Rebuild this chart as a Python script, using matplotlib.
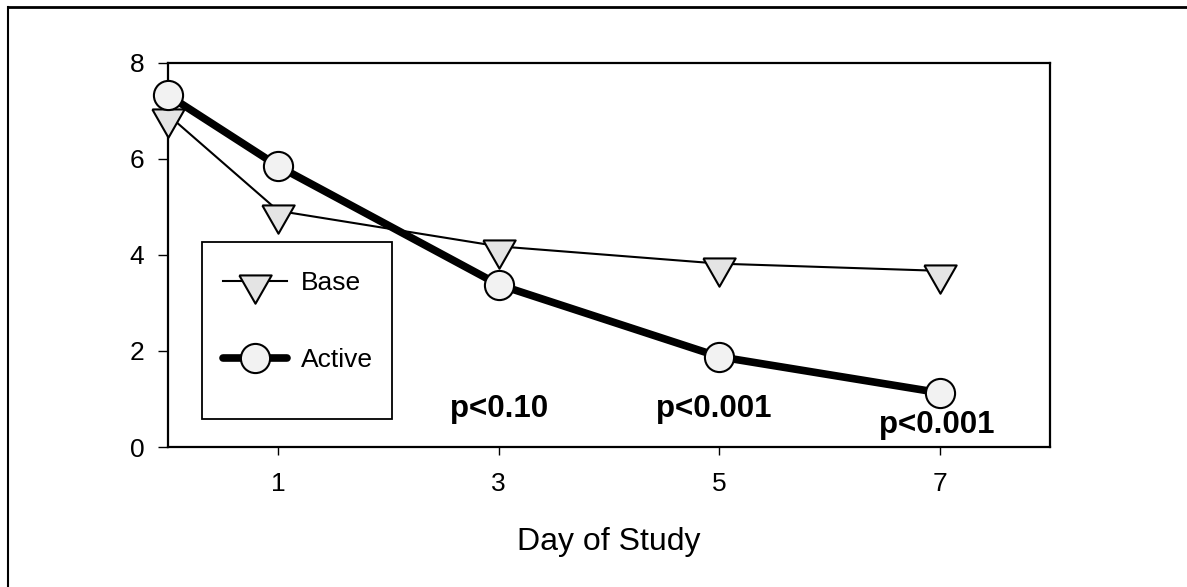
import matplotlib
matplotlib.use("Agg")
import matplotlib.pyplot as plt
from matplotlib.lines import Line2D
from matplotlib.patches import Rectangle

plt.rcParams['font.family'] = ['Liberation Sans', 'DejaVu Sans']

# values
days = [0, 1, 3, 5, 7]
base = [6.92, 4.92, 4.18, 3.82, 3.67]
active = [7.33, 5.85, 3.38, 1.88, 1.13]

p_labels = ["p<0.10", "p<0.001", "p<0.001"]
p_x = [3.0, 4.95, 6.97]
p_y = [0.62, 0.62, 0.29]

x_ticks = [1, 3, 5, 7]
y_ticks = [0, 2, 4, 6, 8]

# down triangle with its top edge near the data point (like the original software)
tri = [(-1, 0.375), (1, 0.375), (0, -1.375), (-1, 0.375)]

fig = plt.figure(figsize=(11.87, 5.87), dpi=100)
ax = fig.add_axes([0.1415, 0.2385, 0.7431, 0.6542])

ax.plot(days, base, color="black", lw=1.5, marker=tri, markersize=32,
        markerfacecolor="#e4e4e4", markeredgecolor="black", markeredgewidth=1.5,
        label="Base", zorder=3, clip_on=False)
ax.plot(days, active, color="black", lw=5.5, marker="o", markersize=21,
        markerfacecolor="#f2f2f2", markeredgecolor="black", markeredgewidth=1.5,
        solid_capstyle="round", solid_joinstyle="round",
        label="Active", zorder=4, clip_on=False)

for txt, x, y in zip(p_labels, p_x, p_y):
    ax.text(x, y, txt, fontsize=22.5, fontweight="bold", ha="center", va="baseline")

ax.set_xlim(0, 8)
ax.set_ylim(0, 8)
ax.set_xticks(x_ticks)
ax.set_yticks(y_ticks)
ax.tick_params(axis="y", direction="out", length=7, width=1, labelsize=19, pad=10)
ax.tick_params(axis="x", direction="out", length=6, width=1, labelsize=19, pad=12)
for s in ax.spines.values():
    s.set_linewidth(1.6)

ax.set_xlabel("Day of Study", fontsize=23, labelpad=22)

# legend box is larger than the entries
ax.add_patch(Rectangle((0.0385, 0.073), 0.2155, 0.461, transform=ax.transAxes,
                       fill=False, lw=1.3, edgecolor="black", zorder=5))
ax.legend(loc="upper left", bbox_to_anchor=(0.036, 0.52), frameon=False,
          fontsize=19, handlelength=2.4, handletextpad=0.55, labelspacing=2.0,
          borderpad=0.4)

# page frame lines at top and left
fig.add_artist(Line2D([8 / 1187, 1], [1 - 7 / 587, 1 - 7 / 587], color="black", lw=2))
fig.add_artist(Line2D([8 / 1187, 8 / 1187], [0, 1 - 7 / 587], color="black", lw=1.5))

fig.savefig("out.png", dpi=100)
